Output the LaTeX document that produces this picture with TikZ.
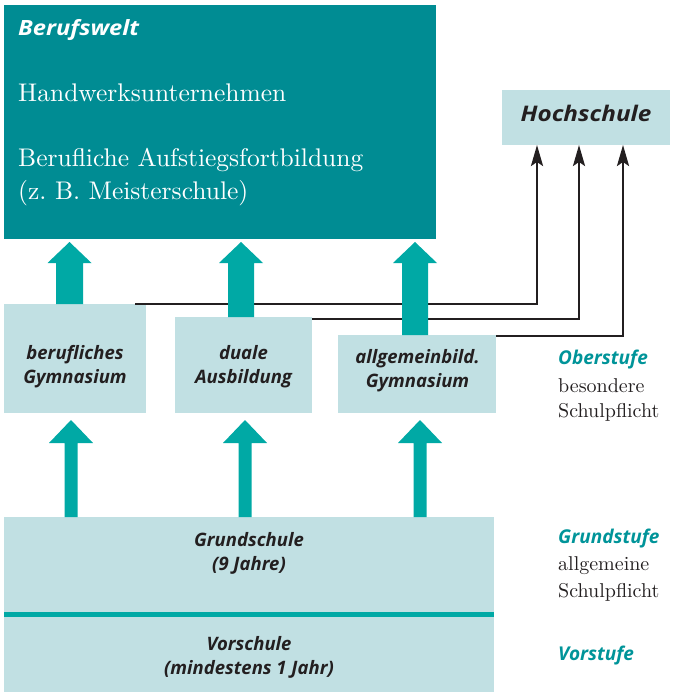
\documentclass[tikz,border=0pt]{standalone}
\usepackage{fontspec}
\setmainfont{lmroman10-regular.otf}
\newfontfamily\hsans{Open Sans}
\newfontfamily\hsansw{Open Sans}[FakeStretch=1.13]
\usetikzlibrary{arrows.meta,calc}
\definecolor{bwteal}{RGB}{0,140,147}
\definecolor{arrteal}{RGB}{0,169,165}
\definecolor{lightbox}{RGB}{193,224,227}
\definecolor{ink}{RGB}{35,31,32}
\definecolor{tealtext}{RGB}{0,148,153}
\frenchspacing
\begin{document}
\begin{tikzpicture}[x=1pt,y=-1pt,
  lbox/.style={fill=lightbox, draw=none, inner sep=0pt, outer sep=0pt},
  sanslbl/.style={font=\hsans\bfseries\itshape\fontsize{18.5}{24}\selectfont, text=ink, align=center, inner sep=0pt},
  serif/.style={font=\fontsize{25.5}{33}\selectfont, text=white, inner sep=0pt, anchor=base west},
  side/.style={font=\fontsize{20}{25}\selectfont, text=ink, inner sep=0pt, anchor=base west},
  sidehead/.style={font=\hsans\bfseries\itshape\fontsize{19}{24}\selectfont, text=tealtext, inner sep=0pt, anchor=base west},
  conn/.style={draw=ink, line width=2.4pt, -{Stealth[length=21pt,width=12pt,inset=4pt]}},
  fat/.style={fill=arrteal, draw=none}]
\useasboundingbox (0,0) rectangle (673,692);

% boxes
\node[fill=bwteal, inner sep=0pt, outer sep=0pt, minimum width=432pt, minimum height=234pt] (bw) at (220,122) {};
\node[lbox, minimum width=168pt, minimum height=55pt] (hs) at (586,117.5) {};
\node[lbox, minimum width=142pt, minimum height=109pt] (b1) at (75,358.5) {};
\node[lbox, minimum width=137pt, minimum height=96pt] (b2) at (243.5,365) {};
\node[lbox, minimum width=158pt, minimum height=78pt] (b3) at (417,374) {};
\node[lbox, minimum width=490pt, minimum height=95pt] (gs) at (249,564.5) {};
\node[lbox, minimum width=490pt, minimum height=75pt] (vs) at (249,654.5) {};
\fill[fat] (gs.south west) rectangle (vs.north east);

% Berufswelt texts
\node[serif, font=\hsansw\bfseries\itshape\fontsize{21}{24}\selectfont] (bwt) at (18,36) {Berufswelt};
\node[serif] (hw) at (18,102) {Handwerksunternehmen};
\node[serif] (auf) at (18,167) {Berufliche Aufstiegsfortbildung};
\node[serif] (mei) at (18,200) {(z. B. Meisterschule)};

% box labels
\node[sanslbl, font=\hsansw\bfseries\itshape\fontsize{21.5}{24}\selectfont, anchor=base] (hst) at (586,122) {Hochschule};
\node[sanslbl] (t1) at (75,367) {berufliches\\Gymnasium};
\node[sanslbl] (t2) at (243.5,367) {duale\\Ausbildung};
\node[sanslbl] (t3) at (417.5,371) {allgemeinbild.\\Gymnasium};
\node[sanslbl] (tg) at (249,553) {Grundschule\\(9 Jahre)};
\node[sanslbl] (tv) at (249,657) {Vorschule\\(mindestens 1 Jahr)};

% side labels
\node[sidehead] (ob) at (558,364) {Oberstufe};
\node[side] (ob1) at (558,392) {besondere};
\node[side] (ob2) at (558,417) {Schulpflicht};
\node[sidehead] (gr) at (558,543) {Grundstufe};
\node[side] (gr1) at (558,570) {allgemeine};
\node[side] (gr2) at (558,597) {Schulpflicht};
\node[sidehead] (vo) at (558,660) {Vorstufe};

% black connectors to Hochschule
\draw[conn] ($(b1.north east)+(-11,0)$) -| ($(hs.south west)+(35,0)$);
\draw[conn] ($(b2.north east)+(0,2)$) -| ($(hs.south west)+(77,0)$);
\draw[conn] ($(b3.north east)+(0,1)$) -| ($(hs.south west)+(121,0)$);

% fat arrows into Berufswelt
\fill[fat] (b1.north -| 56,0) -- (56,263) -- (47.5,263) -- (69.5,242) -- (91.5,263) -- (83,263) -- (b1.north -| 83,0) -- cycle;
\fill[fat] (b2.north -| 228,0) -- (228,263) -- (219,263) -- (241,242) -- (263,263) -- (254,263) -- (b2.north -| 254,0) -- cycle;
\fill[fat] (b3.north -| 402,0) -- (402,263) -- (393,263) -- (415,242) -- (437,263) -- (428,263) -- (b3.north -| 428,0) -- cycle;

% fat arrows from Grundschule
\fill[fat] (gs.north -| 64.5,0) -- (64.5,443) -- (49,443) -- (71,420) -- (93,443) -- (77.5,443) -- (gs.north -| 77.5,0) -- cycle;
\fill[fat] (gs.north -| 238.5,0) -- (238.5,443) -- (223,443) -- (245,420) -- (267,443) -- (251.5,443) -- (gs.north -| 251.5,0) -- cycle;
\fill[fat] (gs.north -| 413.5,0) -- (413.5,443) -- (398,443) -- (420,420) -- (442,443) -- (426.5,443) -- (gs.north -| 426.5,0) -- cycle;
\end{tikzpicture}
\end{document}
